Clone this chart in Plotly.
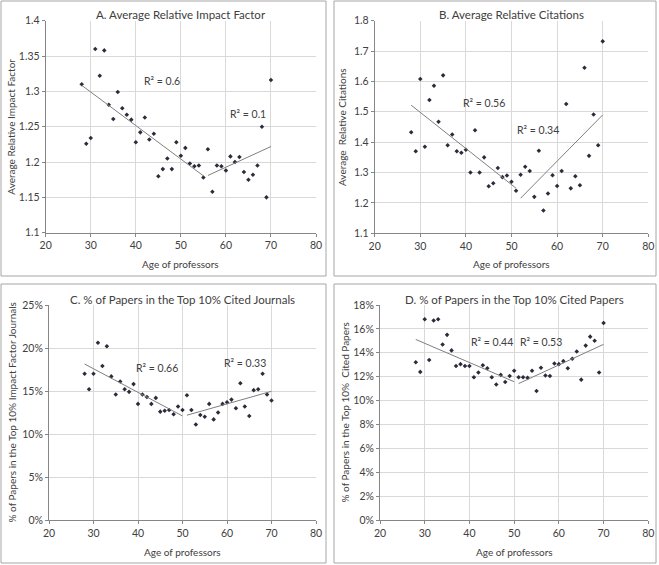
import numpy as np
import plotly.graph_objects as go

ages = list(range(28, 71))

impact_factor = [1.310, 1.226, 1.234, 1.360, 1.322, 1.358, 1.281, 1.261, 1.299, 1.276,
                 1.267, 1.260, 1.228, 1.242, 1.263, 1.232, 1.240, 1.180, 1.190, 1.205,
                 1.190, 1.228, 1.209, 1.220, 1.198, 1.194, 1.195, 1.178, 1.218, 1.158,
                 1.195, 1.194, 1.188, 1.208, 1.200, 1.207, 1.186, 1.175, 1.182, 1.195,
                 1.250, 1.150, 1.316]

citations = [1.433, 1.370, 1.608, 1.385, 1.539, 1.586, 1.467, 1.620, 1.390, 1.425,
             1.370, 1.365, 1.375, 1.300, 1.439, 1.300, 1.350, 1.255, 1.265, 1.315,
             1.285, 1.290, 1.270, 1.240, 1.293, 1.319, 1.305, 1.220, 1.372, 1.175,
             1.231, 1.291, 1.256, 1.305, 1.526, 1.248, 1.288, 1.258, 1.645, 1.355,
             1.491, 1.390, 1.732]

top_journals = [17.0, 15.2, 17.0, 20.6, 17.9, 20.2, 16.7, 14.6, 16.1, 15.2,
                14.9, 15.8, 13.5, 14.6, 14.3, 13.5, 14.2, 12.6, 12.7, 12.8,
                12.3, 13.2, 12.8, 14.5, 12.8, 11.1, 12.2, 12.0, 13.5, 11.7,
                12.5, 13.5, 13.7, 14.0, 13.0, 15.9, 13.2, 12.1, 15.1, 15.2,
                17.0, 14.6, 13.9]

top_papers = [13.2, 12.4, 16.8, 13.4, 16.7, 16.8, 14.7, 15.5, 14.2, 12.9,
              13.05, 12.9, 12.9, 11.95, 12.35, 12.95, 12.7, 11.95, 11.35, 12.15,
              11.55, 12.05, 12.5, 11.95, 11.95, 11.9, 12.5, 10.8, 12.75, 12.1,
              12.05, 13.1, 13.05, 13.3, 12.7, 13.5, 14.1, 11.75, 14.6, 15.35,
              15.0, 12.35, 16.5]

# age at which the second trend segment starts
breaks = [56, 52, 51, 51]

titles = ["A. Average Relative Impact Factor", "B. Average Relative Citations",
          "C. % of Papers in the Top 10% Cited Journals", "D. % of Papers in the Top 10% Cited Papers"]
ytitles = ["Average Relative Impact Factor", "Average  Relative Citations",
           "% of Papers in the Top 10% Impact Factor Journals", "% of Papers in the Top 10%  Cited Papers"]
r2_labels = [("R² = 0.6", "R² = 0.1"), ("R² = 0.56", "R² = 0.34"),
             ("R² = 0.66", "R² = 0.33"), ("R² = 0.44", "R² = 0.53")]
r2_pos = [((45.8, 1.315), (65.0, 1.268)), ((44.0, 1.53), (55.9, 1.44)),
          ((44.3, 17.67), (64.0, 18.3)), ((45.1, 14.87), (56.1, 14.87))]

x_ticks = [20, 30, 40, 50, 60, 70, 80]
yticks_A = [1.1, 1.15, 1.2, 1.25, 1.3, 1.35, 1.4]
ytext_A = ["1.1", "1.15", "1.2", "1.25", "1.3", "1.35", "1.4"]
yticks_B = [1.1, 1.2, 1.3, 1.4, 1.5, 1.6, 1.7, 1.8]
ytext_B = ["1.1", "1.2", "1.3", "1.4", "1.5", "1.6", "1.7", "1.8"]
yticks_C = [0, 5, 10, 15, 20, 25]
ytext_C = [f"{v}%" for v in yticks_C]
yticks_D = [0, 2, 4, 6, 8, 10, 12, 14, 16, 18]
ytext_D = [f"{v}%" for v in yticks_D]

series = [impact_factor, citations, top_journals, top_papers]
yticks = [(yticks_A, ytext_A), (yticks_B, ytext_B), (yticks_C, ytext_C), (yticks_D, ytext_D)]

W, H = 659, 565
# plot areas in pixels: (left, right, top, bottom)
plot_px = [(45.7, 316, 20.7, 232.7), (374.7, 648.3, 20.7, 233.3),
           (49, 316, 305, 520), (380, 648.3, 305, 520)]
panel_px = [(1, 326, 1, 276), (334, 656, 1, 276), (1, 326, 284, 563), (334, 656, 284, 563)]
# y-axis title x position (pixels) and x-axis title y position (pixels)
ytitle_x = [11, 342, 11, 344]
xtitle_y = [264, 264, 551.5, 551.5]

FONT = "Lato, Calibri, Carlito, sans-serif"
TXT = "#404040"
GRID = "#d9d9d9"
AXIS = "#868686"

fig = go.Figure()
layout = dict(width=W, height=H, margin=dict(l=0, r=0, t=0, b=0, autoexpand=False),
              paper_bgcolor="white", plot_bgcolor="white", showlegend=False,
              font=dict(family=FONT, size=10, color=TXT))
annotations = []
shapes = []

for i in range(4):
    l, r, t, b = plot_px[i]
    xa = "xaxis" if i == 0 else f"xaxis{i+1}"
    ya = "yaxis" if i == 0 else f"yaxis{i+1}"
    xr = "x" if i == 0 else f"x{i+1}"
    yr = "y" if i == 0 else f"y{i+1}"
    yv, yt = yticks[i]
    layout[xa] = dict(domain=[l / W, r / W], range=[20, 80], tickvals=x_ticks,
                      showgrid=True, gridcolor=GRID, gridwidth=1, zeroline=False,
                      showline=True, linecolor=AXIS, linewidth=1,
                      ticks="outside", ticklen=3, tickcolor=AXIS, automargin=False,
                      tickfont=dict(size=10.5, color=TXT), anchor=yr)
    layout[ya] = dict(domain=[1 - b / H, 1 - t / H], range=[yv[0], yv[-1]],
                      tickvals=yv, ticktext=yt,
                      showgrid=True, gridcolor=GRID, gridwidth=1, zeroline=False,
                      showline=True, linecolor=AXIS, linewidth=1,
                      ticks="outside", ticklen=3, tickcolor=AXIS, automargin=False,
                      tickfont=dict(size=10.5, color=TXT), anchor=xr)

    ys = series[i]
    fig.add_trace(go.Scatter(x=ages, y=ys, mode="markers", xaxis=xr, yaxis=yr,
                             marker=dict(symbol="diamond", size=3.5, color="#2b2b3b"),
                             cliponaxis=False))
    # trend lines (linear fits on each age range)
    a = np.array(ages)
    yy = np.array(ys)
    for mask in (a < breaks[i], a >= breaks[i]):
        xs = a[mask]
        coef = np.polyfit(xs, yy[mask], 1)
        xe = np.array([xs.min(), xs.max()])
        fig.add_trace(go.Scatter(x=xe, y=np.polyval(coef, xe), mode="lines",
                                 xaxis=xr, yaxis=yr,
                                 line=dict(color="#7f7f7f", width=1)))
    for lab, (px, py) in zip(r2_labels[i], r2_pos[i]):
        annotations.append(dict(x=px, y=py, xref=xr, yref=yr, text=lab, showarrow=False,
                                font=dict(size=10.5, color=TXT), xanchor="center", yanchor="middle"))
    # panel title
    annotations.append(dict(x=(l + r) / 2 / W, y=1 - (t - 6) / H, xref="paper", yref="paper",
                            text=titles[i], showarrow=False, xanchor="center", yanchor="middle",
                            font=dict(size=11.5, color=TXT)))
    # axis titles
    annotations.append(dict(x=(l + r) / 2 / W, y=1 - xtitle_y[i] / H, xref="paper", yref="paper",
                            text="Age of professors", showarrow=False, xanchor="center",
                            yanchor="middle", font=dict(size=10, color=TXT)))
    annotations.append(dict(x=ytitle_x[i] / W, y=1 - (t + b) / 2 / H, xref="paper", yref="paper",
                            text=ytitles[i], showarrow=False, textangle=-90, xanchor="center",
                            yanchor="middle", font=dict(size=10, color=TXT)))
    pl, pr, pt, pb = panel_px[i]
    shapes.append(dict(type="rect", xref="paper", yref="paper",
                       x0=pl / W, x1=pr / W, y0=1 - pb / H, y1=1 - pt / H,
                       line=dict(color="#a6a6a6", width=1)))

layout["annotations"] = annotations
layout["shapes"] = shapes
fig.update_layout(**layout)
fig.write_html("out.html", config={"displayModeBar": False},
               post_script="document.body.style.margin='0px';document.body.style.padding='0px';")
